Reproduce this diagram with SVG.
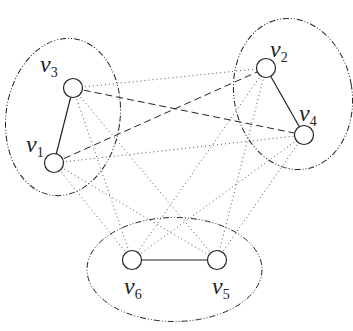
<svg xmlns="http://www.w3.org/2000/svg" width="353" height="331" viewBox="0 0 353 331">
<style>
.grp{fill:none;stroke:#222;stroke-width:1;stroke-dasharray:6 2 1 2 1 2}
.solid{stroke:#222;stroke-width:1.2;fill:none}
.dash{stroke:#222;stroke-width:1;fill:none;stroke-dasharray:7 4}
.dot{stroke:#555;stroke-width:1;fill:none;stroke-dasharray:1 3}
.node{fill:#fff;stroke:#222;stroke-width:1.2}
.lbl{font-family:"Liberation Serif",serif;font-style:italic;font-size:24px;fill:#222}
.sub{font-family:"Liberation Serif",serif;font-style:normal;font-size:14px;fill:#222}
</style>
<g id="groups">
<ellipse class="grp" cx="63" cy="117" rx="57" ry="79" transform="rotate(8 63 117)"/>
<ellipse class="grp" cx="293" cy="94" rx="59" ry="76" transform="rotate(-10 293 94)"/>
<ellipse class="grp" cx="174.5" cy="269.5" rx="87.5" ry="52"/>
</g>
<g id="connectors">
<line class="solid" x1="73" y1="88" x2="54" y2="163"/>
<line class="solid" x1="266" y1="68" x2="304" y2="135"/>
<line class="solid" x1="132" y1="260" x2="217" y2="260"/>
<line class="dash" x1="73" y1="88" x2="304" y2="135"/>
<line class="dash" x1="54" y1="163" x2="266" y2="68"/>
<line class="dot" x1="73" y1="88" x2="266" y2="68"/>
<line class="dot" x1="54" y1="163" x2="304" y2="135"/>
<line class="dot" x1="73" y1="88" x2="132" y2="260"/>
<line class="dot" x1="73" y1="88" x2="217" y2="260"/>
<line class="dot" x1="54" y1="163" x2="132" y2="260"/>
<line class="dot" x1="54" y1="163" x2="217" y2="260"/>
<line class="dot" x1="266" y1="68" x2="132" y2="260"/>
<line class="dot" x1="266" y1="68" x2="217" y2="260"/>
<line class="dot" x1="304" y1="135" x2="132" y2="260"/>
<line class="dot" x1="304" y1="135" x2="217" y2="260"/>
</g>
<g id="v3"><circle class="node" cx="73" cy="88" r="9.5"/><text class="lbl" x="40" y="72">v<tspan class="sub" dy="5">3</tspan></text></g>
<g id="v1"><circle class="node" cx="54" cy="163" r="9.5"/><text class="lbl" x="26" y="152">v<tspan class="sub" dy="5">1</tspan></text></g>
<g id="v2"><circle class="node" cx="266" cy="68" r="9.5"/><text class="lbl" x="270" y="57">v<tspan class="sub" dy="5">2</tspan></text></g>
<g id="v4"><circle class="node" cx="304" cy="135" r="9.5"/><text class="lbl" x="299" y="121">v<tspan class="sub" dy="5">4</tspan></text></g>
<g id="v6"><circle class="node" cx="132" cy="260" r="9.5"/><text class="lbl" x="124" y="294">v<tspan class="sub" dy="5">6</tspan></text></g>
<g id="v5"><circle class="node" cx="217" cy="260" r="9.5"/><text class="lbl" x="212" y="294">v<tspan class="sub" dy="5">5</tspan></text></g>
</svg>
